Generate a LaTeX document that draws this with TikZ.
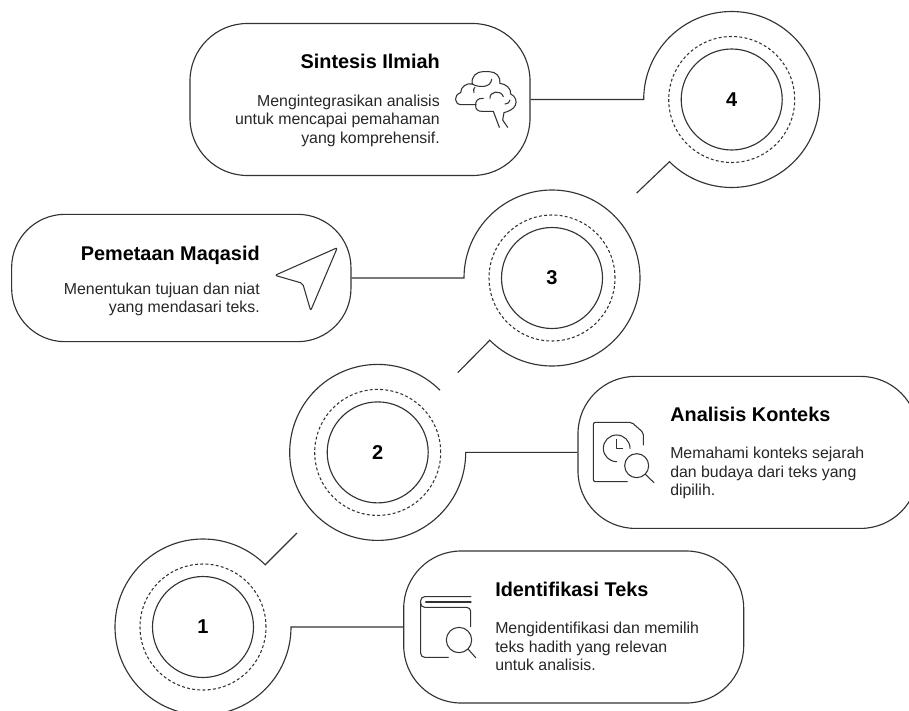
\documentclass[tikz,border=0pt]{standalone}
\usepackage{fontspec}
\setmainfont{Liberation Sans}
\definecolor{inkline}{HTML}{333333}
\tikzset{
	stepbox/.style={draw=inkline, line width=0.85pt, rounded corners=43pt, minimum width=255pt, minimum height=114pt, inner sep=0pt},
	numring/.style={draw=inkline, line width=0.85pt, circle, minimum size=75.75pt, inner sep=0pt, font=\fontsize{15}{18}\selectfont\bfseries},
	steptitle/.style={inner sep=0pt, font=\fontsize{14.9}{18}\selectfont\bfseries},
	stepbody/.style={inner sep=0pt, text=black!85, font=\fontsize{11.9}{13.9}\selectfont},
	iconline/.style={draw=inkline, line width=0.8pt, line join=round, line cap=round},
	outline/.style={draw=inkline, line width=0.85pt, line join=miter},
	dashring/.style={draw=inkline, line width=0.8pt, dash pattern=on 2.2pt off 1.7pt}
}
\begin{document}
\begin{tikzpicture}[x=0.75pt, y=-0.75pt]
	\clip (0,0) rectangle (909,710);

	\node[stepbox] (box4) at (360,99.5) {};
	\node[stepbox, minimum width=254.5pt, minimum height=95.5pt, rounded corners=40pt] (box3) at (181.3,278) {};
	\node[stepbox] (box2) at (748,452.4) {};
	\node[stepbox] (box1) at (573.7,627) {};

	\node[numring] (num4) at (731.7,99.5) {4};
	\node[numring] (num3) at (552,278) {3};
	\node[numring] (num2) at (377.7,452.4) {2};
	\node[numring] (num1) at (203,627) {1};

	\draw[dashring] (num4) circle (47.25pt);
	\draw[dashring] (num3) circle (47.25pt);
	\draw[dashring] (num2) circle (47.25pt);
	\draw[dashring] (num1) circle (47.25pt);

	\coordinate (join4) at (643.7,99.5);
	\coordinate (tail4) at (636.7,193);
	\coordinate (join3) at (464,278);
	\coordinate (tail3) at (457.7,372.7);
	\coordinate (join2) at (465.7,452.4);
	\coordinate (join1) at (291,627);
	\coordinate (tail1) at (297,533);

	\draw[outline] (box4.east) -- (join4) arc[start angle=180, end angle=-135, radius=66pt] -- (tail4);
	\draw[outline] (box3.east) -- (join3) arc[start angle=180, end angle=-135, radius=66pt] -- (tail3);
	\draw[outline] (box2.west) -- (join2) arc[start angle=0, end angle=-315, radius=66pt];
	\draw[outline] (box1.west) -- (join1) arc[start angle=0, end angle=-315, radius=66pt] -- (tail1);

	\node[steptitle, anchor=base east] (title4) at (440,69) {Sintesis Ilmiah};
	\node[stepbody, anchor=north east, align=right] (text4) at (440,94.5) {Mengintegrasikan analisis\\untuk mencapai pemahaman\\yang komprehensif.};
	\node[steptitle, anchor=base east] (title3) at (260,260) {Pemetaan Maqasid};
	\node[stepbody, anchor=north east, align=right] (text3) at (260,282.5) {Menentukan tujuan dan niat\\yang mendasari teks.};
	\node[steptitle, anchor=base west] (title2) at (670,421.5) {Analisis Konteks};
	\node[stepbody, anchor=north west, align=left] (text2) at (670,447) {Memahami konteks sejarah\\dan budaya dari teks yang\\dipilih.};
	\node[steptitle, anchor=base west] (title1) at (495,596.5) {Identifikasi Teks};
	\node[stepbody, anchor=north west, align=left] (text1) at (495,622) {Mengidentifikasi dan memilih\\teks hadith yang relevan\\untuk analisis.};

	\begin{scope}[shift={(440,70)}, x=0.25pt, y=-0.25pt]
		\draw[iconline] (108,104) -- (64,104) .. controls (42,104) and (40,74) .. (62,68) .. controls (62,50) and (80,38) .. (97,42);
		\draw[iconline] (97,42) .. controls (92,18) and (112,5) .. (128,5) -- (148,5) .. controls (168,5) and (182,20) .. (180,40);
		\draw[iconline] (180,40) .. controls (198,42) and (214,56) .. (212,72) .. controls (226,78) and (232,94) .. (226,106) .. controls (220,118) and (206,124) .. (192,128);
		\draw[iconline] (97,42) .. controls (112,52) and (152,56) .. (155,28);
		\draw[iconline] (105,52) .. controls (100,58) .. (102,68);
		\draw[iconline] (130,85) .. controls (112,84) and (106,94) .. (107,106) .. controls (106,118) and (114,124) .. (125,124);
		\draw[iconline] (125,124) -- (160,124) -- (178,172);
		\draw[iconline] (192,128) -- (188,150) -- (203,172);
		\draw[iconline] (150,85) .. controls (148,64) and (182,58) .. (190,80);
		\draw[iconline] (195,102) .. controls (205,100) .. (210,90);
	\end{scope}

	\begin{scope}[shift={(0,200)}, x=0.25pt, y=-0.25pt]
		\draw[iconline, rounded corners=1.5pt] (1012,143) -- (825,226) -- (908,250) -- (932,332) -- cycle;
	\end{scope}

	\begin{scope}[shift={(580,410)}, x=0.25pt, y=-0.25pt]
		\draw[iconline, rounded corners=1.5pt] (190,105) -- (190,68) -- (155,37) -- (40,37) -- (40,215) -- (142,215);
		\draw[iconline] (150,115) arc[start angle=0, end angle=270, radius=10pt];
		\draw[iconline] (110,88) -- (110,115) -- (128,115);
		\draw[iconline] (170,167) circle (9pt);
		\draw[iconline] (196,193) -- (222,218);
	\end{scope}

	\begin{scope}[shift={(410,590)}, x=0.25pt, y=-0.25pt]
		\draw[iconline, rounded corners=3pt] (183,20) -- (32,20) -- (32,202) -- (115,202);
		\draw[iconline, rounded corners=3pt] (32,36) -- (32,52) -- (182,52) -- (182,110);
		\draw[iconline] (47,36) -- (183,36);
		\draw[iconline] (147,150) circle (9.5pt);
		\draw[iconline] (175,178) -- (197,203);
	\end{scope}
\end{tikzpicture}
\end{document}
